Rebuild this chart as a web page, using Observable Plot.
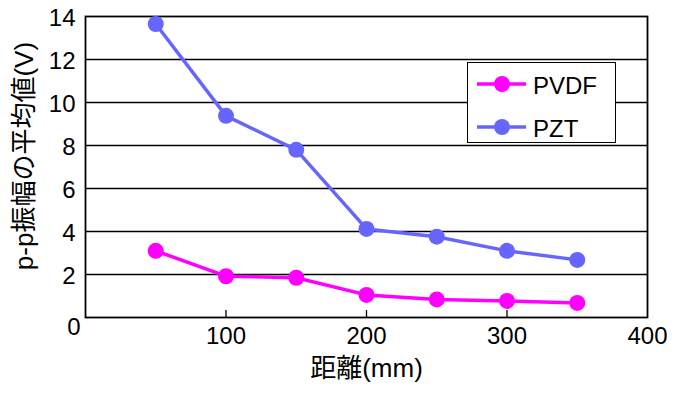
<!DOCTYPE html>
<html>
<head>
<meta charset="utf-8">
<script src="https://cdn.jsdelivr.net/npm/d3@7"></script>
<script src="https://cdn.jsdelivr.net/npm/@observablehq/plot@0.6"></script>
<style>
  html, body { margin: 0; padding: 0; background: #fff; }
  #wrap { position: relative; width: 689px; height: 399px; font-family: "Liberation Sans", Arial, "Noto Sans CJK JP", sans-serif; }
  #legend { position: absolute; left: 467px; top: 62px; width: 147px; height: 79px; border: 1px solid #000; background: #fff; }
  .item { position: absolute; left: 0; height: 30px; width: 147px; }
  .item svg { position: absolute; left: 8px; top: 0; }
  .item span { position: absolute; left: 65px; top: 2px; font-size: 24px; line-height: 26px; color: #000; }
</style>
</head>
<body>
<div id="wrap"></div>
<script>
const distances = [50, 100, 150, 200, 250, 300, 350];
const pvdf = [3.1, 1.92, 1.85, 1.05, 0.84, 0.77, 0.68];
const pzt = [13.65, 9.38, 7.8, 4.12, 3.76, 3.1, 2.68];
const seriesNames = ["PVDF", "PZT"];
const seriesColors = ["#ff00ff", "#6666ff"];
const xTicks = [100, 200, 300, 400];
const yTicks = [2, 4, 6, 8, 10, 12, 14];
const gridValues = [2, 4, 6, 8, 10, 12];
const xLabel = "距離(mm)";
const yLabel = "p-p振幅の平均値(V)";

const rows = [];
distances.forEach((d, i) => {
  rows.push({series: seriesNames[0], x: d, y: pvdf[i]});
  rows.push({series: seriesNames[1], x: d, y: pzt[i]});
});

const font = '"Liberation Sans", Arial, "Noto Sans CJK JP", sans-serif';

const chart = Plot.plot({
  width: 689,
  height: 399,
  marginLeft: 85,
  marginRight: 42,
  marginTop: 16,
  marginBottom: 82,
  style: {fontFamily: font, fontSize: "24px", color: "#000", background: "#fff"},
  x: {domain: [0, 400]},
  y: {domain: [0, 14]},
  color: {domain: seriesNames, range: seriesColors},
  marks: [
    Plot.ruleY(gridValues, {stroke: "#000", strokeWidth: 1.6}),
    Plot.frame({stroke: "#000", strokeWidth: 1.8}),
    Plot.axisX({ticks: [100, 200, 300], tickSize: 7, text: null, dy: -7, strokeWidth: 1.3, label: null}),
    Plot.axisX({ticks: xTicks, tickSize: 0, tickPadding: 9, fontSize: 24, label: null}),
    Plot.axisY({ticks: yTicks, tickSize: 0, tickPadding: 10, dy: 2, fontSize: 24, label: null}),
    Plot.axisY({ticks: [0], tickSize: 0, tickPadding: 5, dy: 10, fontSize: 24, label: null}),
    Plot.line(rows, {x: "x", y: "y", z: "series", stroke: "series", strokeWidth: 3.5}),
    Plot.dot(rows, {x: "x", y: "y", fill: "series", r: 8, stroke: null}),
    Plot.text([xLabel], {frameAnchor: "bottom", dy: 59, fontSize: 26, fill: "#000"}),
    Plot.text([yLabel], {frameAnchor: "left", textAnchor: "middle", rotate: -90, dx: -61, dy: -11, fontSize: 26, fill: "#000"})
  ]
});

const wrap = document.getElementById("wrap");
wrap.appendChild(chart);

const legend = document.createElement("div");
legend.id = "legend";
seriesNames.forEach((name, i) => {
  const item = document.createElement("div");
  item.className = "item";
  item.style.top = (i === 0 ? 8 : 51) + "px";
  item.innerHTML = `<svg width="52" height="28"><line x1="1" y1="13" x2="50" y2="13" stroke="${seriesColors[i]}" stroke-width="3.5"/><circle cx="26" cy="13" r="8" fill="${seriesColors[i]}"/></svg><span>${name}</span>`;
  legend.appendChild(item);
});
wrap.appendChild(legend);
</script>
</body>
</html>
